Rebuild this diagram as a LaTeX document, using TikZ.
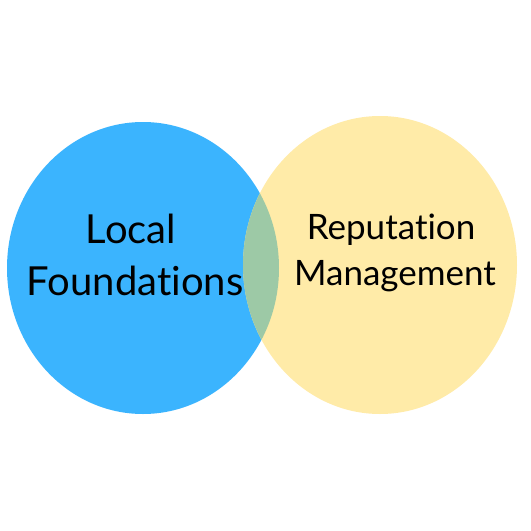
\documentclass[tikz,border=0pt]{standalone}
\usepackage{fontspec}
\setmainfont[Ligatures=NoCommon]{Lato}
\definecolor{cblue}{HTML}{3BB4FE}
\definecolor{cyellow}{HTML}{FFEBA8}
\definecolor{cmix}{HTML}{9DC9A6}
\begin{document}
\begin{tikzpicture}[x=1pt,y=-1pt,
  lbl/.style={text=black,inner sep=0pt,anchor=base,font=\fontsize{#1}{#1}\selectfont}]
\useasboundingbox (0,0) rectangle (531,531);
\fill[white] (0,0) rectangle (531,531);
\fill[cblue] (143,268) ellipse [x radius=136, y radius=146];
\fill[cyellow] (380,265) ellipse [x radius=137, y radius=149];
\begin{scope}
  \clip (143,268) ellipse [x radius=136, y radius=146];
  \fill[cmix] (380,265) ellipse [x radius=137, y radius=149];
\end{scope}
\node[lbl=40] (l1) at (131,243) {Local};
\node[lbl=40] (l2) at (135,295) {Foundations};
\node[lbl=35] (r1) at (391,239) {Reputation};
\node[lbl=35] (r2) at (395,285) {Management};
\end{tikzpicture}
\end{document}
